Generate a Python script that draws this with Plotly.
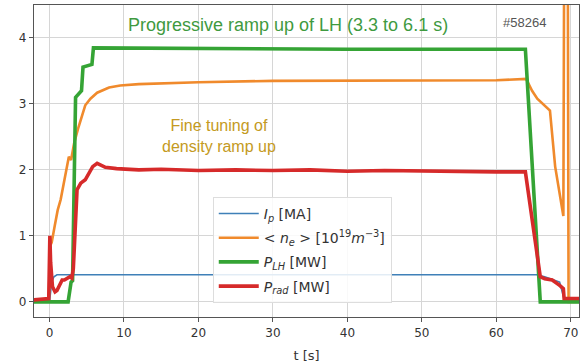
import plotly.graph_objects as go

# Plasma current I_p [MA]
t_ip = [-2.1, 0.0, 0.3, 0.6, 1.0, 20.0, 40.0, 65.4, 66.5, 68.5, 69.2, 71.1]
ip = [0.0, 0.0, 0.3, 0.38, 0.41, 0.41, 0.41, 0.41, 0.38, 0.3, 0.0, 0.0]

# Line-averaged density <n_e> [1e19 m^-3]
t_ne = [-2.1, -0.1, 0.1, 0.3, 0.7, 1.1, 1.5, 2.0, 2.3, 2.6, 2.9, 3.3, 3.9, 4.8, 5.5,
        6.4, 8.0, 9.5, 12.0, 20.0, 30.0, 40.0, 50.0, 60.0, 64.0, 64.8, 65.5, 66.6, 67.2,
        67.9, 68.6, 69.0, 69.1, 69.6, 69.7, 71.1]
ne = [0.02, 0.02, 0.85, 0.9, 1.15, 1.39, 1.55, 1.85, 2.05, 2.2, 2.15, 2.4, 2.65, 2.98,
      3.08, 3.17, 3.25, 3.28, 3.3, 3.33, 3.35, 3.35, 3.36, 3.36, 3.38, 3.2, 3.08, 2.97, 2.9,
      2.05, 1.55, 1.3, 5.0, 5.0, 0.0, 0.0]

# Lower hybrid power P_LH [MW]
t_lh = [-2.1, 2.5, 2.9, 3.1, 3.5, 3.7, 4.3, 4.5, 5.7, 5.9, 20.0, 40.0, 63.9, 65.9, 69.0, 71.1]
p_lh = [0.0, 0.0, 0.3, 0.32, 3.1, 3.13, 3.2, 3.56, 3.6, 3.85, 3.84, 3.83, 3.83, 0.0, 0.0, 0.0]

# Radiated power P_rad [MW]
t_rad = [-2.1, -0.1, 0.05, 0.15, 0.4, 0.75, 1.0, 1.7, 2.0, 2.75, 3.0, 3.2, 3.7, 4.2, 4.8,
         5.3, 5.8, 6.4, 7.5, 9.0, 12.0, 15.0, 20.0, 25.0, 30.0, 35.0, 40.0, 45.0, 50.0,
         55.0, 60.0, 63.9, 65.9, 66.5, 67.5, 68.5, 69.0, 69.1, 71.1]
p_rad = [0.03, 0.05, 1.0, 0.6, 0.23, 0.15, 0.17, 0.33, 0.33, 0.38, 0.36, 0.5, 1.7, 1.8,
         1.85, 1.95, 2.05, 2.1, 2.04, 2.02, 2.0, 2.01, 1.99, 2.0, 1.99, 2.0, 1.98, 1.99,
         1.98, 1.98, 1.97, 1.97, 0.38, 0.35, 0.33, 0.25, 0.2, 0.05, 0.05]

x_ticks = [0, 10, 20, 30, 40, 50, 60, 70]
y_ticks = [0, 1, 2, 3, 4]

series = [
    (t_ip, ip, "<i>I<sub>p</sub></i> [MA]", "#3f80b8", 1.6),
    (t_ne, ne, "&lt; <i>n<sub>e</sub></i> &gt; [10<sup>19</sup><i>m</i><sup>−3</sup>]", "#f08a2c", 2.6),
    (t_lh, p_lh, "<i>P<sub>LH</sub></i> [MW]", "#35a435", 3.6),
    (t_rad, p_rad, "<i>P<sub>rad</sub></i> [MW]", "#d62a2a", 3.6),
]

fig = go.Figure()
for i, (t, v, name, color, w) in enumerate(series):
    fig.add_trace(go.Scatter(x=t, y=v, mode="lines", name=name, legendgroup=str(i),
                             line=dict(color=color, width=w)))

axis_common = dict(showline=True, mirror=True, linecolor="#555", linewidth=1.3,
                   showgrid=True, gridcolor="#d6d6d6", gridwidth=1,
                   ticks="outside", ticklen=4, tickcolor="#555", zeroline=False,
                   tickfont=dict(family="DejaVu Sans", size=12, color="#333"))

fig.update_xaxes(range=[-2.08, 71.1], tickvals=x_ticks,
                 title=dict(text="t [s]", font=dict(family="DejaVu Sans", size=13, color="#333"),
                            standoff=12),
                 **axis_common)
fig.update_yaxes(range=[-0.23, 4.5], tickvals=y_ticks, **axis_common)

fig.add_annotation(x=32.0, y=4.2, xref="x", yref="y", showarrow=False,
                   text="Progressive ramp up of LH (3.3 to 6.1 s)",
                   font=dict(family="Liberation Sans", size=18, color="#3f9a3f"))
fig.add_annotation(x=63.8, y=4.23, xref="x", yref="y", showarrow=False,
                   text="#58264",
                   font=dict(family="Liberation Sans", size=13, color="#555"))
fig.add_annotation(x=22.8, y=2.51, xref="x", yref="y", showarrow=False,
                   text="Fine tuning of<br>density ramp up",
                   font=dict(family="Liberation Sans", size=16, color="#c49a22"))

fig.update_layout(
    width=582, height=363,
    margin=dict(l=34, r=3, t=5, b=46),
    paper_bgcolor="white", plot_bgcolor="white",
    showlegend=True,
    legend=dict(x=0.328, y=0.385, xanchor="left", yanchor="top",
                bgcolor="rgba(255,255,255,0.85)", bordercolor="#dddddd", borderwidth=1,
                font=dict(family="DejaVu Sans", size=14, color="#333"),
                itemwidth=40, tracegroupgap=3),
)

fig.write_html("out.html")
